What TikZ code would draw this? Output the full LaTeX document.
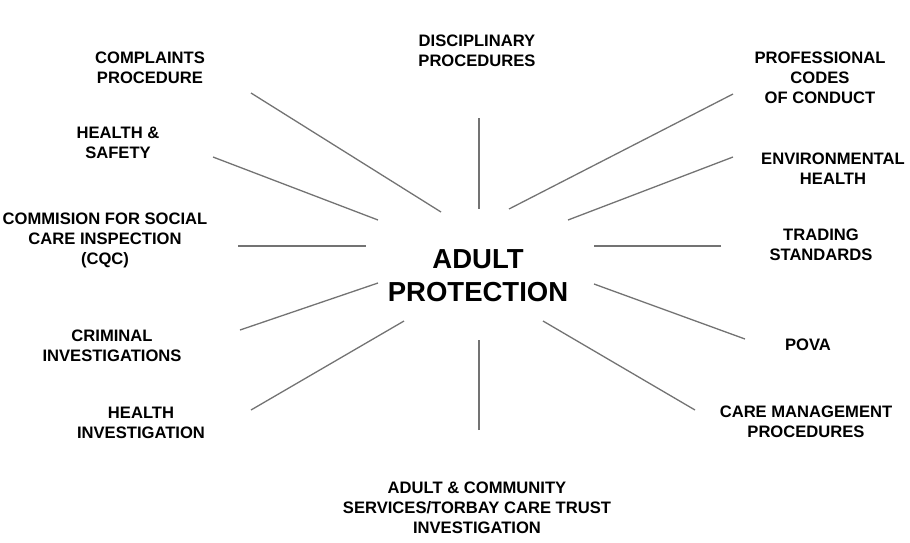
\documentclass[tikz,border=0pt]{standalone}
\usepackage{fontspec}
\setmainfont{Liberation Sans}

\begin{document}
\begin{tikzpicture}[
		x=1pt,y=-1pt,
		topic/.style={align=center,inner sep=0pt,font=\bfseries\fontsize{16.6}{19.8}\selectfont},
		hub/.style={align=center,inner sep=0pt,font=\bfseries\fontsize{27.5}{33}\selectfont},
		spoke/.style={draw=black!55,line width=1.3pt}
		]
		\useasboundingbox (0,0) rectangle (910,542);
		\node[hub] (protection) at (478,276) {ADULT\\PROTECTION};
		\node[topic] (disciplinary) at (477,51) {DISCIPLINARY\\PROCEDURES};
		\node[topic] (complaints) at (150,67.5) {COMPLAINTS\\PROCEDURE};
		\node[topic] (safety) at (118,143) {HEALTH \&\\SAFETY};
		\node[topic] (csci) at (105,240.5) {COMMISION FOR SOCIAL\\CARE INSPECTION\\(CQC)};
		\node[topic] (criminal) at (112,346) {CRIMINAL\\INVESTIGATIONS};
		\node[topic] (healthinv) at (141,423) {HEALTH\\INVESTIGATION};
		\node[topic] (community) at (477,507.5) {ADULT \& COMMUNITY\\SERVICES/TORBAY CARE TRUST\\INVESTIGATION};
		\node[topic] (codes) at (820,77.5) {PROFESSIONAL\\CODES\\OF CONDUCT};
		\node[topic] (environmental) at (833,168.5) {ENVIRONMENTAL\\HEALTH};
		\node[topic] (trading) at (821,245) {TRADING\\STANDARDS};
		\node[topic] (pova) at (808,345) {POVA};
		\node[topic] (caremgmt) at (806,422) {CARE MANAGEMENT\\PROCEDURES};
		
		\coordinate (disciplinary-a) at (479,118);
		\coordinate (disciplinary-b) at (479,209);
		\coordinate (complaints-a) at (251,93);
		\coordinate (complaints-b) at (441,212);
		\coordinate (safety-a) at (213,157);
		\coordinate (safety-b) at (378,220);
		\coordinate (csci-a) at (238,246);
		\coordinate (csci-b) at (366,246);
		\coordinate (criminal-a) at (240,330);
		\coordinate (criminal-b) at (378,283);
		\coordinate (healthinv-a) at (251,410);
		\coordinate (healthinv-b) at (404,321);
		\coordinate (community-a) at (479,430);
		\coordinate (community-b) at (479,340);
		\coordinate (codes-a) at (733,94);
		\coordinate (codes-b) at (509,209);
		\coordinate (environmental-a) at (733,157);
		\coordinate (environmental-b) at (568,220);
		\coordinate (trading-a) at (721,246);
		\coordinate (trading-b) at (594,246);
		\coordinate (pova-a) at (745,339);
		\coordinate (pova-b) at (594,284);
		\coordinate (caremgmt-a) at (695,410);
		\coordinate (caremgmt-b) at (543,321);
		
		\foreach \t in {disciplinary,complaints,safety,csci,criminal,healthinv,community,codes,environmental,trading,pova,caremgmt}
			\draw[spoke] (\t-a) -- (\t-b);
\end{tikzpicture}
\end{document}
